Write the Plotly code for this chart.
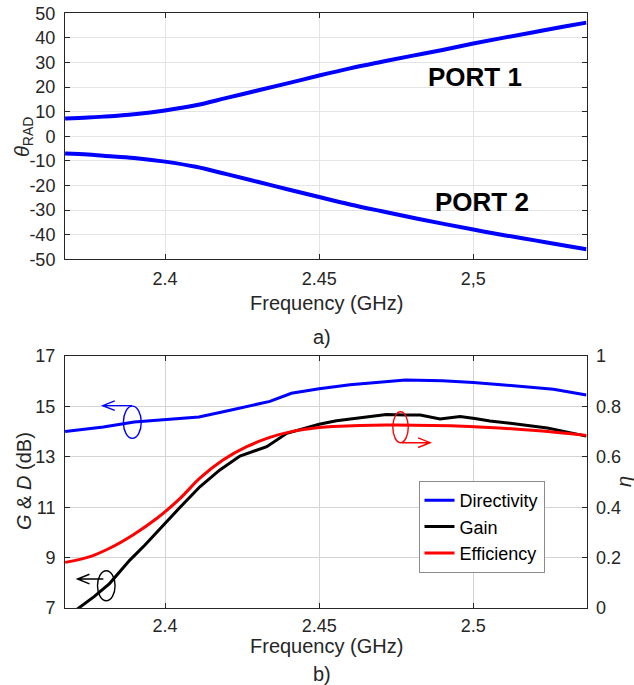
import plotly.graph_objects as go

W, H = 634, 685

# ---------------- data: panel a) ----------------
freq_a = [2.3676, 2.375, 2.38, 2.39, 2.40, 2.41, 2.42, 2.43, 2.44, 2.45,
          2.46, 2.47, 2.48, 2.49, 2.50, 2.51, 2.52, 2.53, 2.5367]
theta_port1 = [7.2, 7.6, 8.0, 9.0, 10.5, 12.6, 15.6, 18.6, 21.6, 24.7,
               27.6, 30.2, 32.7, 35.1, 37.7, 40.1, 42.4, 44.7, 46.2]
theta_port2 = [-7.0, -7.4, -7.9, -8.8, -10.3, -12.4, -15.4, -18.5, -21.6, -24.7,
               -27.7, -30.4, -33.0, -35.5, -37.9, -40.2, -42.3, -44.5, -45.9]

# ---------------- data: panel b) ----------------
freq_dir = [2.3676, 2.38, 2.39, 2.40, 2.411, 2.42, 2.434, 2.441, 2.45, 2.46,
            2.47, 2.478, 2.49, 2.50, 2.51, 2.52, 2.526, 2.5367]
directivity = [14.00, 14.18, 14.38, 14.48, 14.58, 14.82, 15.20, 15.52, 15.70, 15.86,
               15.97, 16.05, 16.02, 15.95, 15.85, 15.75, 15.68, 15.45]

freq_gain = [2.3676, 2.372, 2.377, 2.382, 2.3886, 2.3935, 2.3984, 2.4049, 2.4113, 2.4178,
             2.4243, 2.429, 2.433, 2.4395, 2.4436, 2.45, 2.4556, 2.4644, 2.4718, 2.478,
             2.4828, 2.4892, 2.4957, 2.5005, 2.5054, 2.512, 2.5184, 2.524, 2.529, 2.5367]
gain = [6.60, 7.00, 7.45, 7.97, 8.90, 9.50, 10.16, 11.00, 11.81, 12.48,
        13.03, 13.22, 13.40, 13.93, 14.06, 14.29, 14.43, 14.56, 14.68, 14.66,
        14.66, 14.50, 14.60, 14.52, 14.42, 14.33, 14.23, 14.14, 14.02, 13.82]

freq_eff = [2.3676, 2.3757, 2.382, 2.3896, 2.3974, 2.4049, 2.4113, 2.4188, 2.4265, 2.434,
            2.441, 2.45, 2.4545, 2.4718, 2.4988, 2.5202, 2.5367]
efficiency = [0.181, 0.204, 0.237, 0.290, 0.356, 0.435, 0.515, 0.587, 0.640, 0.677,
              0.700, 0.716, 0.720, 0.726, 0.720, 0.704, 0.685]

# ---------------- ticks ----------------
x_tickvals = [2.4, 2.45, 2.5]
x_ticktext_a = ["2.4", "2.45", "2,5"]
x_ticktext_b = ["2.4", "2.45", "2.5"]
theta_tickvals = [50, 40, 30, 20, 10, 0, -10, -20, -30, -40, -50]
theta_ticktext = ["50", "40", "30", "20", "10", "0", "-10", "-20", "-30", "-40", "-50"]
db_tickvals = [7, 9, 11, 13, 15, 17]
eta_tickvals = [0, 0.2, 0.4, 0.6, 0.8, 1]
eta_ticktext = ["0", "0.2", "0.4", "0.6", "0.8", "1"]

FONT = "Liberation Sans, Arial, Helvetica, sans-serif"
AX = "#262626"
BLUE, BLACK, RED = "#0000ff", "#000000", "#ff0000"


def px(x):
    return x / W


def py(y):
    return 1 - y / H


XR = [2.36756, 2.53672]
XDOM = [px(65), px(586.5)]

fig = go.Figure()

fig.add_trace(go.Scatter(x=freq_a, y=theta_port1, mode="lines", line=dict(color=BLUE, width=4, shape="spline"),
                         xaxis="x", yaxis="y", showlegend=False))
fig.add_trace(go.Scatter(x=freq_a, y=theta_port2, mode="lines", line=dict(color=BLUE, width=4, shape="spline"),
                         xaxis="x", yaxis="y", showlegend=False))

fig.add_trace(go.Scatter(x=freq_dir, y=directivity, mode="lines", name="Directivity",
                         line=dict(color=BLUE, width=3), xaxis="x2", yaxis="y2"))
fig.add_trace(go.Scatter(x=freq_gain, y=gain, mode="lines", name="Gain",
                         line=dict(color=BLACK, width=3), xaxis="x2", yaxis="y2"))
fig.add_trace(go.Scatter(x=freq_eff, y=efficiency, mode="lines", name="Efficiency",
                         line=dict(color=RED, width=3, shape="spline"), xaxis="x2", yaxis="y3"))

tickfont = dict(family=FONT, size=18, color=AX)
common_x = dict(range=XR, domain=XDOM, tickvals=x_tickvals, ticks="inside", ticklen=5,
                tickcolor=AX, showline=True, linecolor=AX, linewidth=1, mirror="ticks",
                tickfont=tickfont, zeroline=False, automargin=False)

fig.update_layout(
    template="none",
    width=W, height=H, margin=dict(l=0, r=0, t=0, b=0, pad=0),
    paper_bgcolor="white", plot_bgcolor="white",
    font=dict(family=FONT, color=AX),
    xaxis=dict(common_x, anchor="y", ticktext=x_ticktext_a, showgrid=True, gridcolor="#e4e4e4",
               ticklabelstandoff=3),
    yaxis=dict(range=[-50, 50], domain=[py(259.3), py(13.3)], anchor="x",
               tickvals=theta_tickvals, ticktext=theta_ticktext, ticks="inside", ticklen=5,
               tickcolor=AX, showline=True, linecolor=AX, mirror="ticks", tickfont=tickfont,
               showgrid=True, gridcolor="#e4e4e4", zeroline=False, ticklabelstandoff=5,
               automargin=False),
    xaxis2=dict(common_x, anchor="y2", ticktext=x_ticktext_b, showgrid=True, gridcolor="#d4d4d4",
                ticklabelstandoff=1),
    yaxis2=dict(range=[7, 17], domain=[py(608), py(356)], anchor="x2",
                tickvals=db_tickvals, ticks="inside", ticklen=5, tickcolor=AX,
                showline=True, linecolor=AX, mirror=False, tickfont=tickfont,
                showgrid=True, gridcolor="#d4d4d4", zeroline=False, ticklabelstandoff=5,
                automargin=False),
    yaxis3=dict(range=[0, 1], overlaying="y2", side="right", anchor="x2",
                tickvals=eta_tickvals, ticktext=eta_ticktext, ticks="inside", ticklen=5,
                tickcolor=AX, showline=True, linecolor=AX, tickfont=tickfont,
                showgrid=False, zeroline=False, ticklabelstandoff=5, automargin=False),
    legend=dict(x=px(418.5), y=py(481), xanchor="left", yanchor="top",
                bgcolor="white", bordercolor="#8c8c8c", borderwidth=1,
                font=dict(family=FONT, size=18, color="#000000"), itemwidth=30,
                tracegroupgap=0),
)

ann = []


def label(text, x, y, size=20, angle=0, color=AX):
    ann.append(dict(text=text, x=px(x), y=py(y), xref="paper", yref="paper",
                    xanchor="center", yanchor="middle", showarrow=False, textangle=angle,
                    font=dict(family=FONT, size=size, color=color)))


label("<i>θ</i><sub>RAD</sub>", 24, 137, angle=-90)
label("Frequency (GHz)", 326, 303)
label("a)", 322, 337)
label("<i>G</i> &amp; <i>D</i> (dB)", 24, 481, angle=-90)
label("<i>η</i>", 624, 482, angle=-90)
label("Frequency (GHz)", 326, 646)
label("b)", 322, 674)
label("<b>PORT 1</b>", 475, 77, size=26, color="#000000")
label("<b>PORT 2</b>", 482, 202, size=26, color="#000000")
fig.update_layout(annotations=ann)

shapes = []
# ellipses (axis indicators) in panel b data coordinates
shapes.append(dict(type="circle", xref="x2", yref="y2", x0=2.3865, x1=2.3923, y0=13.73, y1=15.01,
                   line=dict(color=BLUE, width=1.4)))
shapes.append(dict(type="circle", xref="x2", yref="y2", x0=2.3781, x1=2.3838, y0=7.29, y1=8.48,
                   line=dict(color=BLACK, width=1.4)))
shapes.append(dict(type="circle", xref="x2", yref="y2", x0=2.4739, x1=2.4789, y0=13.56, y1=14.79,
                   line=dict(color=RED, width=1.4)))


def arrow(x_from, x_to, yv, color):
    d = 0.0039 if x_to < x_from else -0.0039
    hw = 0.19
    path = (f"M {x_from},{yv} L {x_to},{yv} "
            f"M {x_to + d},{yv + hw} L {x_to},{yv} L {x_to + d},{yv - hw}")
    shapes.append(dict(type="path", xref="x2", yref="y2", path=path,
                       line=dict(color=color, width=1.4)))


arrow(2.3893, 2.3798, 15.03, BLUE)
arrow(2.3800, 2.3716, 8.15, BLACK)
arrow(2.4768, 2.4860, 13.56, RED)
fig.update_layout(shapes=shapes)

fig.write_html("out.html")
